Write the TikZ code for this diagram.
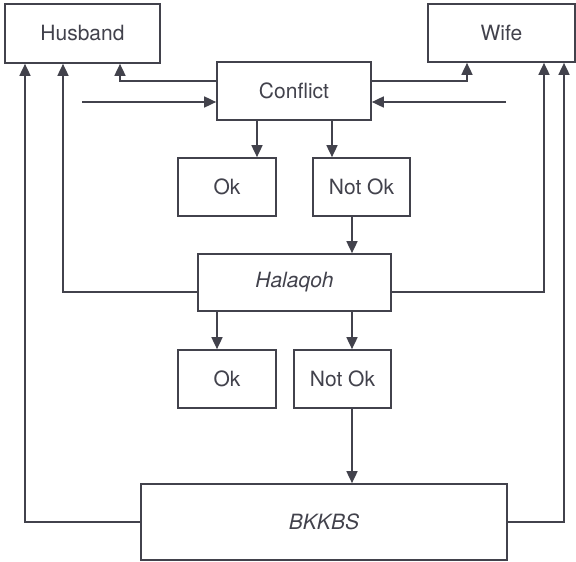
\documentclass[tikz,border=0pt]{standalone}
\usepackage{fontspec}
\setmainfont{TeX Gyre Heros}
\usetikzlibrary{arrows.meta}
\definecolor{ink}{HTML}{42424C}
\begin{document}
\begin{tikzpicture}[x=1pt,y=-1pt,
  box/.style={draw=ink,line width=1.7pt,text=ink,inner sep=0pt,font=\fontsize{21}{25}\selectfont},
  arr/.style={draw=ink,line width=1.7pt,-{Triangle[length=12pt,width=11pt]}}]
\useasboundingbox (0,0) rectangle (576,562);
\fill[white] (0,0) rectangle (576,562);
% nodes
\node[box,minimum width=155pt,minimum height=59pt] (husband) at (82.5,33.5) {Husband};
\node[box,minimum width=147pt,minimum height=58pt] (wife) at (501.5,33) {Wife};
\node[box,minimum width=154pt,minimum height=58pt] (conflict) at (294,91) {Conflict};
\node[box,minimum width=98pt,minimum height=58pt] (ok1) at (227,187) {Ok};
\node[box,minimum width=97pt,minimum height=58pt] (notok1) at (361.5,187) {Not Ok};
\node[box,minimum width=193pt,minimum height=57pt] (halaqoh) at (294.5,282.5) {\itshape Halaqoh};
\node[box,minimum width=98pt,minimum height=58pt] (ok2) at (227,379) {Ok};
\node[box,minimum width=97pt,minimum height=58pt] (notok2) at (342.5,379) {Not Ok};
\node[box,minimum width=366pt,minimum height=76pt] (bkkbs) at (324,522) {\itshape BKKBS};
% helper coordinates
\coordinate (hx1) at (25,0);
\coordinate (hx2) at (63,0);
\coordinate (hx3) at (120,0);
\coordinate (wx3) at (467,0);
\coordinate (wx1) at (544,0);
\coordinate (wx2) at (564,0);
\coordinate (yc) at (0,81);
\coordinate (yh) at (0,292);
\coordinate (inL) at (82,102);
\coordinate (inR) at (506,102);
\coordinate (ax1) at (257,0);
\coordinate (ax2) at (332,0);
\coordinate (ax3) at (352,0);
\coordinate (ax4) at (217,0);
% connectors
\draw[arr] (conflict.west |- yc) -| (husband.south -| hx3);
\draw[arr] (conflict.east |- yc) -| (wife.south -| wx3);
\draw[arr] (inL) -- (conflict.west |- inL);
\draw[arr] (inR) -- (conflict.east |- inR);
\draw[arr] (conflict.south -| ax1) -- (ok1.north -| ax1);
\draw[arr] (conflict.south -| ax2) -- (notok1.north -| ax2);
\draw[arr] (notok1.south -| ax3) -- (halaqoh.north -| ax3);
\draw[arr] (halaqoh.west |- yh) -| (husband.south -| hx2);
\draw[arr] (halaqoh.east |- yh) -| (wife.south -| wx1);
\draw[arr] (halaqoh.south -| ax4) -- (ok2.north -| ax4);
\draw[arr] (halaqoh.south -| ax3) -- (notok2.north -| ax3);
\draw[arr] (notok2.south -| ax3) -- (bkkbs.north -| ax3);
\draw[arr] (bkkbs.west) -| (husband.south -| hx1);
\draw[arr] (bkkbs.east) -| (wife.south -| wx2);
\end{tikzpicture}
\end{document}
